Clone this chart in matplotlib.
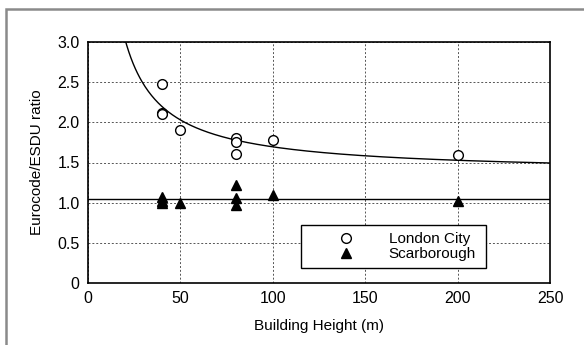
import numpy as np
import matplotlib.pyplot as plt
from matplotlib.patches import Rectangle
from matplotlib.lines import Line2D

plt.rcParams['font.family'] = ['Liberation Sans', 'DejaVu Sans']

# building heights (m) and Eurocode/ESDU ratios
london_h = [40, 40, 40, 50, 80, 80, 80, 100, 200]
london_r = [2.48, 2.11, 2.10, 1.91, 1.80, 1.75, 1.61, 1.78, 1.59]
scarb_h = [40, 40, 40, 50, 80, 80, 80, 100, 200]
scarb_r = [1.07, 1.02, 1.00, 1.00, 1.22, 1.06, 0.97, 1.10, 1.02]

# trend lines: ratio = a + b/H for London, constant for Scarborough
fit_a, fit_b = 1.36, 33.5
scarb_level = 1.04

fig = plt.figure(figsize=(5.84, 3.45), dpi=100)
ax = fig.add_axes([88/584, 1 - 283/345, 462/584, 241/345])

# outer frame
fig.patches.append(Rectangle((6/584, -0.1), 1.2, 1 - 9/345 + 0.1, transform=fig.transFigure,
                             fill=False, edgecolor='#8a8a8a', linewidth=1.8))

hh = np.linspace(15, 250, 400)
ax.plot(hh, fit_a + fit_b / hh, color='black', linewidth=1.0)
ax.axhline(scarb_level, color='black', linewidth=1.0)

ax.plot(london_h, london_r, linestyle='none', marker='o', markersize=7,
        markerfacecolor='white', markeredgecolor='black', markeredgewidth=1.0)
ax.plot(scarb_h, scarb_r, linestyle='none', marker='^', markersize=7.5,
        markerfacecolor='black', markeredgecolor='black')

ax.set_xlim(0, 250)
ax.set_ylim(0, 3.0)
ax.set_xticks([0, 50, 100, 150, 200, 250])
ax.set_yticks([0, 0.5, 1.0, 1.5, 2.0, 2.5, 3.0])
ax.set_yticklabels(['0', '0.5', '1.0', '1.5', '2.0', '2.5', '3.0'])
ax.grid(True, color='#555555', linestyle=(0, (2, 2)), linewidth=0.7)
ax.tick_params(length=0, labelsize=11.5, pad=6)
for s in ax.spines.values():
    s.set_linewidth(1.2)

ax.set_xlabel('Building Height (m)', fontsize=11, labelpad=9)
ax.set_ylabel('Eurocode/ESDU ratio', fontsize=11, labelpad=10)

handles = [Line2D([], [], linestyle='none', marker='o', markersize=7, markerfacecolor='white',
                  markeredgecolor='black'),
           Line2D([], [], linestyle='none', marker='^', markersize=7.5, markerfacecolor='black',
                  markeredgecolor='black')]
leg = ax.legend(handles, ['London City', 'Scarborough'], loc='lower left',
                bbox_to_anchor=((301 - 88)/462, (283 - 268)/241, (486 - 301)/462, (268 - 219)/241),
                mode='expand', fancybox=False, framealpha=1, edgecolor='black',
                fontsize=11, handlelength=5.0, handletextpad=0.3, labelspacing=0.05,
                borderpad=0.45, borderaxespad=0)
leg.get_frame().set_linewidth(1.0)

fig.savefig('out.png', dpi=100)
